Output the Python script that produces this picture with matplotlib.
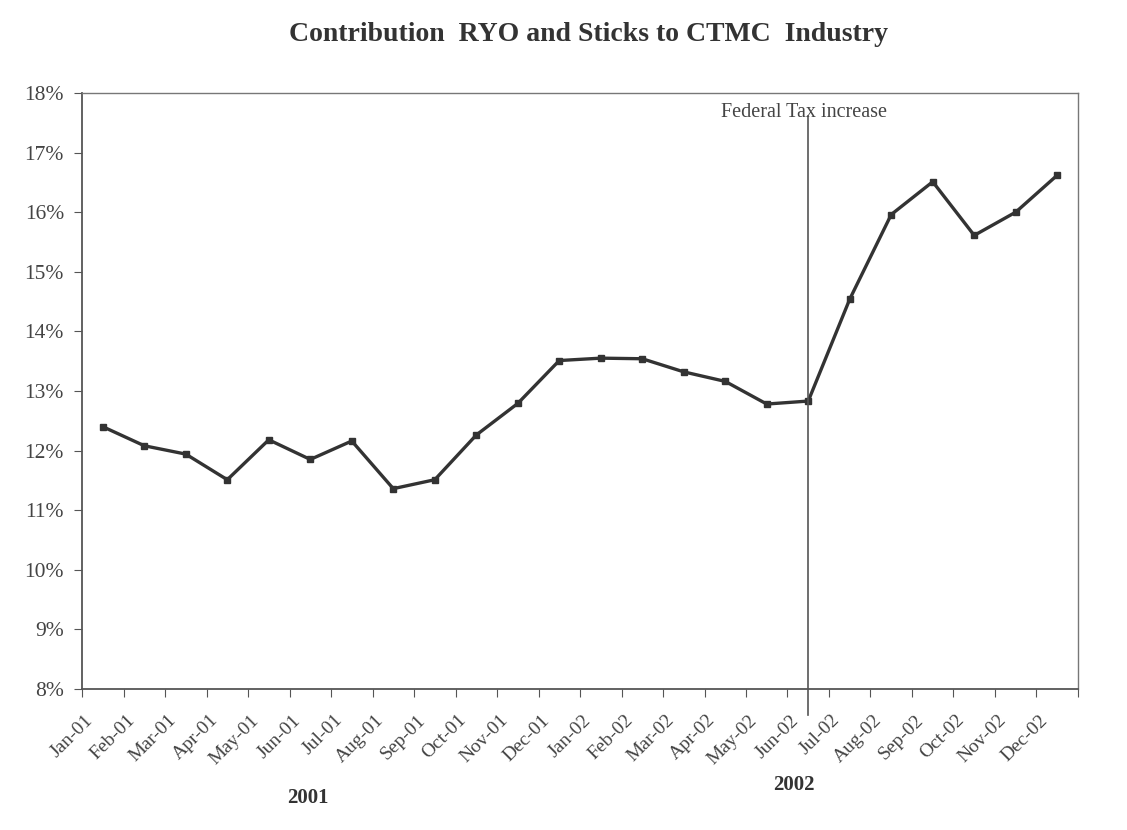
import numpy as np
from matplotlib import pyplot as plt
from matplotlib.transforms import ScaledTranslation

# Data
months = ["Jan-01", "Feb-01", "Mar-01", "Apr-01", "May-01", "Jun-01",
          "Jul-01", "Aug-01", "Sep-01", "Oct-01", "Nov-01", "Dec-01",
          "Jan-02", "Feb-02", "Mar-02", "Apr-02", "May-02", "Jun-02",
          "Jul-02", "Aug-02", "Sep-02", "Oct-02", "Nov-02", "Dec-02"]
share = [12.40, 12.08, 11.94, 11.51, 12.18, 11.85,
         12.16, 11.36, 11.51, 12.26, 12.79, 13.51,
         13.55, 13.54, 13.32, 13.16, 12.78, 12.83,
         14.54, 15.96, 16.51, 15.61, 16.00, 16.62]
event_month = "Jun-02"
event_label = "Federal Tax increase"
year_labels = ["2001", "2002"]

plt.rcParams['font.family'] = ['Liberation Serif', 'DejaVu Serif']

fig = plt.figure(figsize=(11.27, 8.30), dpi=100)
ax = fig.add_axes([0.0728, 0.170, 0.8837, 0.718])

x = np.arange(len(months))
ax.plot(x, share, color='#333333', linewidth=2.4, marker='s', markersize=4,
        markerfacecolor='#333333', markeredgecolor='#333333')

ax.set_xlim(-0.5, len(months) - 0.5)
ax.set_ylim(8, 18)
ax.set_yticks(np.arange(8, 19, 1))
ax.set_yticklabels(["%d%%" % v for v in range(8, 19)], fontsize=15.5, color='#444444')

# category ticks between labels, labels at centres
ax.set_xticks(np.arange(-0.5, len(months) + 0.5, 1))
ax.set_xticklabels([])
ax.set_xticks(x, minor=True)
ax.set_xticklabels(months, minor=True, rotation=45, ha='right', va='baseline',
                   rotation_mode='anchor', fontsize=14, color='#444444')
ax.tick_params(axis='x', which='minor', length=0, pad=23)
ax.tick_params(axis='x', which='major', length=6, color='#555555', direction='out')
ax.tick_params(axis='y', length=6, color='#555555', direction='out', pad=7)
shift = ScaledTranslation(-9 / 100, 0, fig.dpi_scale_trans)
for lab in ax.get_xticklabels(minor=True):
    lab.set_transform(lab.get_transform() + shift)

for side in ['left', 'bottom']:
    ax.spines[side].set_color('#555555')
    ax.spines[side].set_linewidth(1.3)
for side in ['top', 'right']:
    ax.spines[side].set_color('#777777')
    ax.spines[side].set_linewidth(1.0)

# event marker
ev = months.index(event_month)
ax.plot([ev, ev], [7.56, 17.62], color='#555555', linewidth=1.2, clip_on=False)
ax.text(ev - 0.1, 17.68, event_label, ha='center', va='center',
        fontsize=14.5, color='#444444')

# year labels
ax.text(4.95, 6.17, year_labels[0], ha='center', va='center', fontsize=15,
        fontweight='bold', color='#333333', clip_on=False)
ax.text(16.65, 6.39, year_labels[1], ha='center', va='center', fontsize=15,
        fontweight='bold', color='#333333', clip_on=False)

fig.text(0.522, 0.958, "Contribution  RYO and Sticks to CTMC  Industry",
         ha='center', va='center', fontsize=20, fontweight='bold', color='#333333')

fig.savefig("out.png", dpi=100)
